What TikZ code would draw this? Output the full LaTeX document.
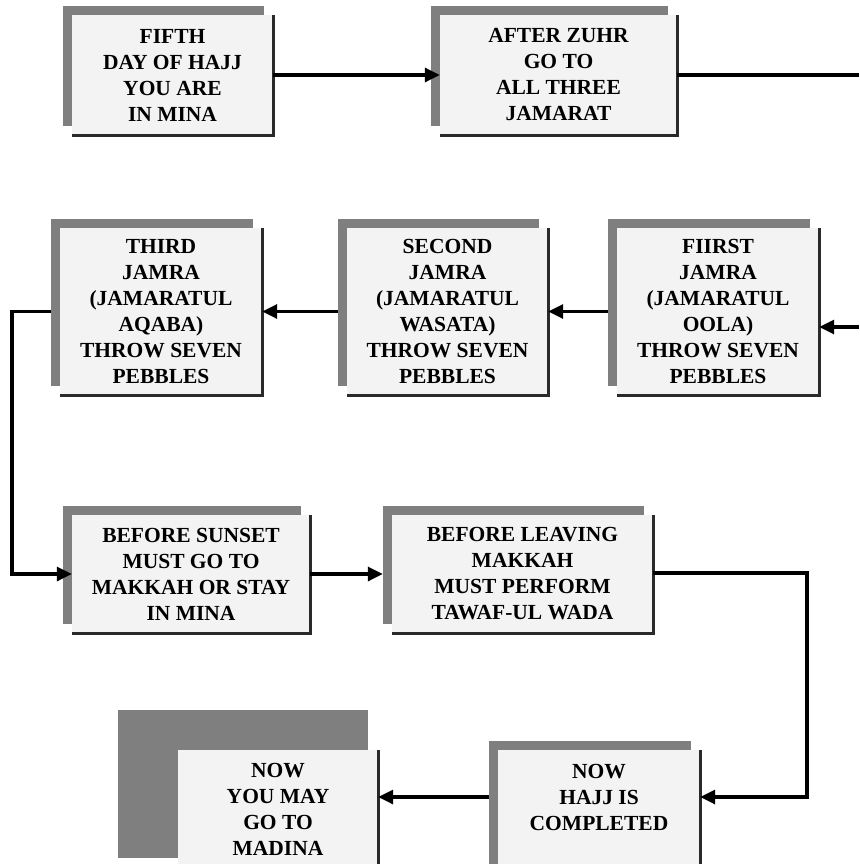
\documentclass[tikz,border=0pt]{standalone}
\usepackage{fontspec}
\setmainfont{Liberation Serif}
\usetikzlibrary{shadows,arrows.meta}
\definecolor{boxfill}{HTML}{F3F3F3}
\definecolor{shadowgray}{HTML}{7F7F7F}
\definecolor{edgegray}{HTML}{2A2A2A}
\begin{document}
\begin{tikzpicture}[x=1pt,y=-1pt,
  plainbox/.style={fill=boxfill, inner sep=0pt, align=center,
    font=\fontsize{21.5}{26}\selectfont\bfseries},
  box/.style={plainbox, general shadow={fill=shadowgray, shadow xshift=-9pt, shadow yshift=9pt}},
  label/.style={inner sep=0pt, align=center, font=\fontsize{21.5}{26}\selectfont\bfseries},
  edgeline/.style={draw=edgegray, line width=2.6pt},
  conn/.style={draw=black, line width=3.2pt, -{Triangle[length=15pt,width=14pt]}},
  plainconn/.style={draw=black, line width=3.2pt}]
\useasboundingbox (0,0) rectangle (859,864);
\clip (0,0) rectangle (859,864);
% row 1
\node[box, minimum width=201pt, minimum height=120pt] (fifth) at (172.5,75) {FIFTH\\DAY OF HAJJ\\YOU ARE\\IN MINA};
\node[box, minimum width=237pt, minimum height=120pt] (zuhr) at (558.5,75) {AFTER ZUHR\\GO TO\\ALL THREE\\JAMARAT};
% row 2
\node[box, minimum width=202pt, minimum height=167pt] (third) at (161,311.5) {THIRD\\JAMRA\\(JAMARATUL\\AQABA)\\THROW SEVEN\\PEBBLES};
\node[box, minimum width=201pt, minimum height=167pt] (second) at (447.5,311.5) {SECOND\\JAMRA\\(JAMARATUL\\WASATA)\\THROW SEVEN\\PEBBLES};
\node[box, minimum width=202pt, minimum height=167pt] (first) at (718,311.5) {FIIRST\\JAMRA\\(JAMARATUL\\OOLA)\\THROW SEVEN\\PEBBLES};
% row 3
\node[box, minimum width=238pt, minimum height=118pt] (sunset) at (191,574) {BEFORE SUNSET\\MUST GO TO\\MAKKAH OR STAY\\IN MINA};
\node[box, minimum width=261pt, minimum height=118pt] (leaving) at (522.5,574) {BEFORE LEAVING\\MAKKAH\\MUST PERFORM\\TAWAF-UL WADA};
% row 4
\node[box, minimum width=202pt, minimum height=150pt] (hajj) at (599,825) {};
\node[label] (hajjtext) at (599,797) {NOW\\HAJJ IS\\COMPLETED};
\fill[shadowgray] (118,710) rectangle (368,858);
\node[plainbox, minimum width=200pt, minimum height=150pt] (madina) at (278,825) {};
\node[label] (madinatext) at (278,809) {NOW\\YOU MAY\\GO TO\\MADINA};
% box edges
\foreach \n in {fifth,zuhr,third,second,first,sunset,leaving,hajj,madina}
  \draw[edgeline] (\n.north east) -- (\n.south east) -- (\n.south west);
% connectors
\draw[conn] (fifth.east) -- (zuhr.west);
\coordinate (outR) at (859,75);
\draw[plainconn] (zuhr.east) -- (outR);
\coordinate (inR) at (859,327);
\draw[conn] (inR) -- (inR -| first.east);
\draw[conn] ([xshift=-9pt]first.west) -- (second.east);
\draw[conn] ([xshift=-9pt]second.west) -- (third.east);
\coordinate (lc) at (12,311.5);
\draw[conn] ([xshift=-9pt]third.west) -- (lc) |- (sunset.west);
\draw[conn] (sunset.east) -- ([xshift=-9pt]leaving.west);
\coordinate (rc) at (807,573);
\draw[conn] (leaving.east |- rc) -- (rc) |- ([yshift=28pt]hajj.east);
\draw[conn] ([xshift=-9pt,yshift=28pt]hajj.west) -- ([yshift=28pt]madina.east);
\end{tikzpicture}
\end{document}
